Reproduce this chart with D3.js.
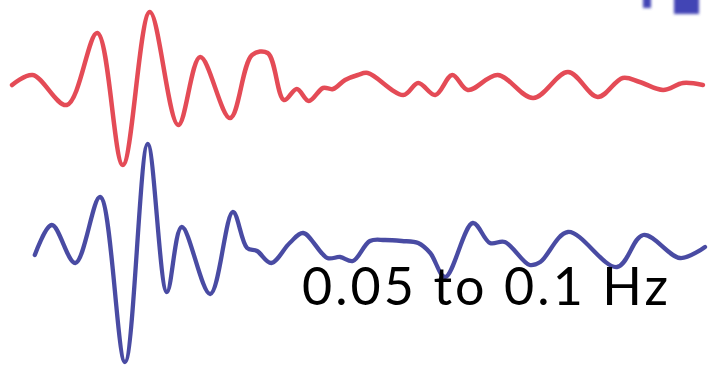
<!DOCTYPE html>
<html>
<head>
<meta charset="utf-8">
<script src="https://cdn.jsdelivr.net/npm/d3@7"></script>
<style>
  html, body { margin: 0; padding: 0; background: #fff; }
  svg { display: block; }
</style>
</head>
<body>
<svg id="chart" width="710" height="369"></svg>
<script>
// ---- data (time in s, amplitude in arbitrary units) ----
const redTime = [1.7, 4.6, 9.4, 13.7, 17.3, 21.1, 25.1, 28.2, 32.4, 35.5, 37.7, 40.0, 41.8, 43.5, 45.5, 46.9, 48.6, 50.4, 51.8, 56.8, 58.9, 61.3, 63.7, 65.9, 70.1, 75.1, 80.0, 84.2, 87.7, 90.1, 93.4, 96.2, 99.0];
const redAmp  = [0, 10, -20, 52, -80, 73, -40, 28, -33, 30, 32, -15, -4, -16, -3, -4, 5, 10, 12, -10, 2, -10, 10, -5, 10, -13, 13, -12, 7, 3, -5, 2, 0];

const blueTime = [4.9, 7.3, 10.6, 14.1, 17.6, 20.8, 23.5, 25.6, 29.6, 32.8, 34.8, 36.2, 38.2, 40.8, 42.7, 46.1, 47.9, 49.7, 52.1, 54.2, 56.6, 58.9, 60.6, 62.7, 66.6, 69.0, 71.1, 74.6, 76.1, 80.0, 86.9, 90.6, 95.8, 99.3];
const blueAmp  = [-5, 25, -13, 53, -112, 106, -42, 23, -44, 38, 2, -1, -13, 7, 17, -8, -7, -11, 9, 10, 9, 7, -3, -27, 27, 7, 8, -15, -12, 18, -17, 15, -8, 3];

const traceOffsets = [284, 119];   // vertical offsets of red and blue traces (data units)
const label = "0.05 to 0.1 Hz";

// ---- drawing ----
const W = 710, H = 369;
const svg = d3.select("#chart");

const x = d3.scaleLinear().domain([0, 100]).range([0, W]);
const y = d3.scaleLinear().domain([0, H]).range([H, 0]);

const defs = svg.append("defs");
defs.append("filter").attr("id", "soft")
  .attr("x", "-5%").attr("y", "-5%").attr("width", "110%").attr("height", "110%")
  .append("feGaussianBlur").attr("stdDeviation", 0.7);
defs.append("filter").attr("id", "blur2")
  .attr("x", "-50%").attr("y", "-50%").attr("width", "200%").attr("height", "200%")
  .append("feGaussianBlur").attr("stdDeviation", 1.6);

const line = (offset) => d3.line()
  .x(d => x(d[0]))
  .y(d => y(offset + d[1]))
  .curve(d3.curveCatmullRom.alpha(0.5));

const redData = redTime.map((t, i) => [t, redAmp[i]]);
const blueData = blueTime.map((t, i) => [t, blueAmp[i]]);

svg.append("path")
  .datum(redData)
  .attr("d", line(traceOffsets[0]))
  .attr("fill", "none")
  .attr("stroke", "#e44c57")
  .attr("stroke-width", 4.5)
  .attr("stroke-linejoin", "round")
  .attr("stroke-linecap", "round")
  .attr("filter", "url(#soft)");

svg.append("path")
  .datum(blueData)
  .attr("d", line(traceOffsets[1]))
  .attr("fill", "none")
  .attr("stroke", "#4a4ca3")
  .attr("stroke-width", 4.3)
  .attr("stroke-linejoin", "round")
  .attr("stroke-linecap", "round")
  .attr("filter", "url(#soft)");

// cut-off panel marker at top right
const mark = svg.append("g").attr("filter", "url(#blur2)").attr("fill", "#4345b5");
mark.append("rect").attr("x", 643).attr("y", -4).attr("width", 8).attr("height", 12);
mark.append("rect").attr("x", 674).attr("y", -4).attr("width", 25).attr("height", 18);

// label
svg.append("text")
  .attr("x", 302)
  .attr("y", 305)
  .attr("font-family", "Lato, 'Noto Sans', sans-serif")
  .attr("font-size", 52)
  .attr("fill", "#000")
  .attr("textLength", 366)
  .attr("lengthAdjust", "spacing")
  .text(label);
</script>
</body>
</html>
